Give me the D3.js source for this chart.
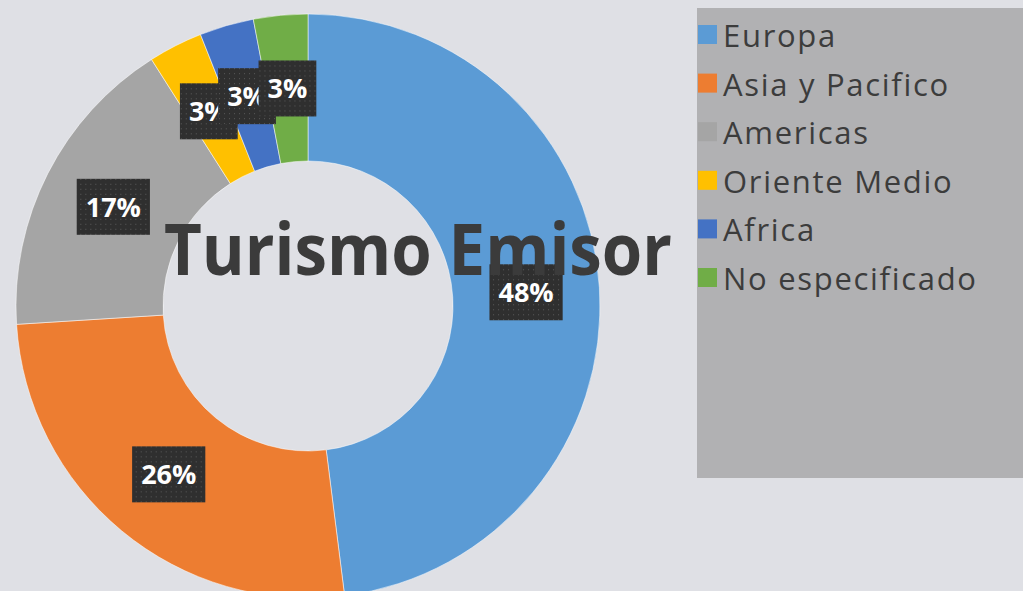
<!DOCTYPE html>
<html lang="es">

<head>
  <title>Turismo Emisor</title>
  <script src="https://d3js.org/d3.v7.min.js"></script>
  <style>
    body {
      margin: 0;
      padding: 0;
      overflow: hidden;
      background: #dfe0e5;
      font-family: "Open Sans", Arial, sans-serif;
    }
  </style>
</head>

<body>
  <svg id="chart" width="1023" height="591"></svg>

  <script>
    // Chart data
    const categories = ["Europa", "Asia y Pacifico", "Americas", "Oriente Medio", "Africa", "No especificado"];
    const shares = [48, 26, 17, 3, 3, 3];
    const labels = ["48%", "26%", "17%", "3%", "3%", "3%"];
    const colors = ["#5b9bd5", "#ed7d31", "#a5a5a5", "#ffc000", "#4472c4", "#70ad47"];
    const title = "Turismo Emisor";

    const width = 1023, height = 591;
    const cx = 308, cy = 306;
    const outerR = 292, innerR = 145;

    const svg = d3.select("#chart");

    svg.append("rect")
      .attr("width", width)
      .attr("height", height)
      .attr("fill", "#dfe0e5");

    // dotted fill for the label boxes
    const defs = svg.append("defs");
    const pat = defs.append("pattern")
      .attr("id", "dots")
      .attr("width", 5)
      .attr("height", 5)
      .attr("patternUnits", "userSpaceOnUse");
    pat.append("rect").attr("width", 5).attr("height", 5).attr("fill", "#2f2f2f");
    pat.append("rect").attr("x", 2).attr("y", 2).attr("width", 1).attr("height", 1).attr("fill", "#5a5a5a");

    const data = categories.map((c, i) => ({ name: c, value: shares[i], label: labels[i], color: colors[i] }));

    const pie = d3.pie().sort(null).value(d => d.value);
    const arcs = pie(data);

    const arc = d3.arc().innerRadius(innerR).outerRadius(outerR);
    const labelArc = d3.arc().innerRadius((innerR + outerR) / 2).outerRadius((innerR + outerR) / 2);

    const g = svg.append("g").attr("transform", `translate(${cx},${cy})`);

    g.selectAll("path.slice")
      .data(arcs)
      .enter().append("path")
      .attr("class", "slice")
      .attr("d", arc)
      .attr("fill", d => d.data.color)
      .attr("stroke", "#ffffff")
      .attr("stroke-opacity", 0.5)
      .attr("stroke-width", 1);

    // Title over the donut
    svg.append("text")
      .attr("x", 418)
      .attr("y", 275)
      .attr("text-anchor", "middle")
      .attr("font-size", 72)
      .attr("font-weight", "bold")
      .attr("fill", "#3b3b3b")
      .attr("textLength", 508)
      .attr("lengthAdjust", "spacingAndGlyphs")
      .text(title);

    // Data labels
    const lab = g.selectAll("g.lab")
      .data(arcs)
      .enter().append("g")
      .attr("class", "lab")
      .attr("transform", d => {
        const [x, y] = labelArc.centroid(d);
        return `translate(${x},${y})`;
      });

    lab.each(function (d) {
      const el = d3.select(this);
      const t = el.append("text")
        .attr("text-anchor", "middle")
        .attr("y", 10)
        .attr("font-size", 27)
        .attr("font-weight", "bold")
        .attr("fill", "#ffffff")
        .text(d.data.label);
      const w = t.node().getComputedTextLength() + 18;
      el.insert("rect", "text")
        .attr("x", -w / 2)
        .attr("y", -28)
        .attr("width", w)
        .attr("height", 56)
        .attr("fill", "url(#dots)");
    });

    // Legend
    const legend = svg.append("g");
    legend.append("rect")
      .attr("x", 697)
      .attr("y", 8)
      .attr("width", 340)
      .attr("height", 470)
      .attr("fill", "#b1b1b3");

    const rowY = d3.scalePoint().domain(categories).range([47, 290]);

    const item = legend.selectAll("g.item")
      .data(data)
      .enter().append("g")
      .attr("class", "item")
      .attr("transform", d => `translate(0,${rowY(d.name)})`);

    item.append("rect")
      .attr("x", 698)
      .attr("y", -22)
      .attr("width", 19)
      .attr("height", 19)
      .attr("fill", d => d.color);

    item.append("text")
      .attr("x", 723)
      .attr("y", 0)
      .attr("font-size", 31)
      .attr("letter-spacing", "1.7px")
      .attr("fill", "#3c3c3c")
      .text(d => d.name);
  </script>
</body>

</html>
